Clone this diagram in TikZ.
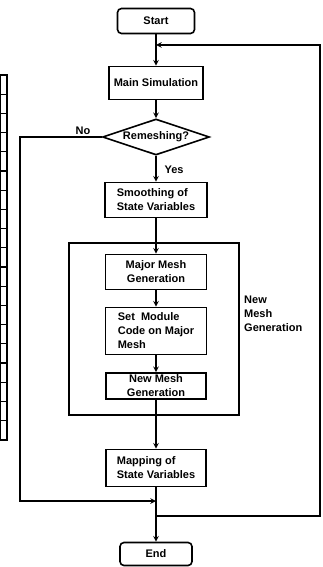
\documentclass[tikz,border=0pt]{standalone}
\usepackage{fontspec}
\setmainfont{Liberation Sans}
\usetikzlibrary{shapes,arrows}

\begin{document}
\begin{tikzpicture}[x=1pt,y=-1pt,
    box/.style = {draw = black, line width = 1.6pt, fill = white, inner sep = 2pt,
                  font = \fontsize{11}{14}\selectfont\bfseries},
    term/.style = {box, rounded corners = 4pt},
    test/.style = {box, diamond, aspect = 3, inner sep = 0pt},
    lbl/.style = {font = \fontsize{11}{14}\selectfont\bfseries, inner sep = 1pt},
    flow/.style = {line width = 1.5pt, -stealth}]
    \useasboundingbox (0,0) rectangle (322,567);

    % cut edge of the neighbouring figure
    \draw [line width = 1.2pt] (0,75) rectangle (7,440);
    \foreach \i in {1,...,18}
      \draw [line width = 1.2pt] (0,{75+\i*19.2}) -- (7,{75+\i*19.2});

    \node [box, minimum width = 170, minimum height = 172, line width = 1.8pt] (group) at (154,329) {};

    \node [term, minimum width = 77, minimum height = 25] (start) at (156,21) {Start};
    \node [box, minimum width = 94, minimum height = 33] (sim) at (156,83) {Main Simulation};
    \node [test, minimum width = 107, minimum height = 36] (remesh) at (156,137) {Remeshing?};
    \node [box, minimum width = 102, minimum height = 35, align = left] (smooth) at (156,200) {Smoothing of\\State Variables};
    \node [box, minimum width = 101, minimum height = 35, align = center] (major) at (156,272) {Major Mesh\\Generation};
    \node [box, minimum width = 101, minimum height = 47, align = left] (setcode) at (156,331) {Set\ \ Module\\Code on Major\\Mesh};
    \node [box, minimum width = 100, minimum height = 26, align = center] (newgen) at (156,386) {New Mesh\\Generation};
    \node [box, minimum width = 100, minimum height = 37, align = left] (mapping) at (156,468) {Mapping of\\State Variables};
    \node [term, minimum width = 72, minimum height = 23] (end) at (156,554) {End};

    \node [lbl, anchor = west, align = left] (grouplbl) at (243,314) {New\\Mesh\\Generation};
    \node [lbl] (no) at (83,131) {No};
    \node [lbl] (yes) at (174,170) {Yes};

    \coordinate (jtop) at (156,45);
    \coordinate (jno) at (156,501);
    \coordinate (jloop) at (156,516);
    \coordinate (rtop) at (320,45);
    \coordinate (rbot) at (320,516);
    \coordinate (ltop) at (20,137);
    \coordinate (lbot) at (20,501);

    \draw [flow] (start) -- (sim);
    \draw [flow] (sim) -- (remesh);
    \draw [flow] (remesh) -- (smooth);
    \draw [flow] (smooth) -- (major);
    \draw [flow] (major) -- (setcode);
    \draw [flow] (setcode) -- (newgen);
    \draw [flow] (newgen) -- (mapping);
    \draw [flow] (mapping) -- (end);
    \draw [flow] (remesh.west) -- (ltop) -- (lbot) -- (jno);
    \draw [flow] (jloop) -- (rbot) -- (rtop) -- (jtop);
  \end{tikzpicture}
\end{document}
